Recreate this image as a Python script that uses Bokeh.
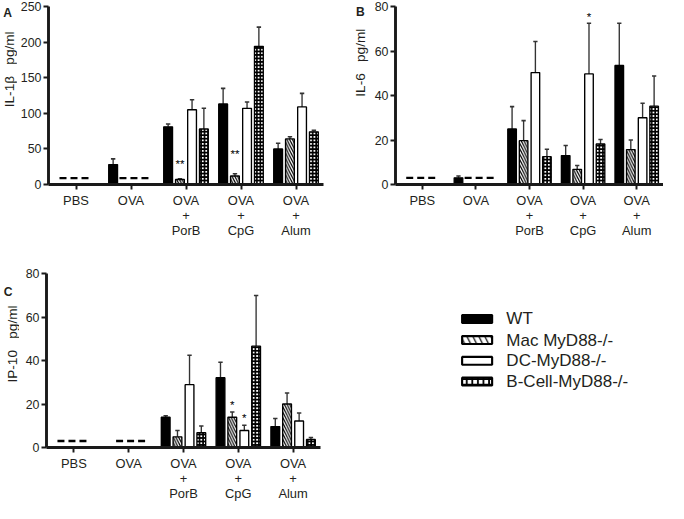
import numpy as np
from math import pi
from bokeh.plotting import figure
from bokeh.layouts import row, column
from bokeh.models import FixedTicker
from bokeh.embed import file_html
from bokeh.resources import INLINE
from bokeh.core.properties import value

# ---------------- data ----------------
groups = ["PBS", "OVA", "OVA\n+\nPorB", "OVA\n+\nCpG", "OVA\n+\nAlum"]
strains = ["WT", "Mac MyD88-/-", "DC-MyD88-/-", "B-Cell-MyD88-/-"]

# IL-1beta pg/ml (None = below detection, drawn as dashed line)
il1b_wt = [None, 28, 81, 113, 50]
il1b_wt_err = [None, 36, 85, 135, 58]
il1b_mac = [None, None, 7, 12, 64]
il1b_mac_err = [None, None, 8, 15, 67]
il1b_dc = [None, None, 105, 107, 109]
il1b_dc_err = [None, None, 119, 116, 128]
il1b_bc = [None, None, 78, 194, 74]
il1b_bc_err = [None, None, 107, 221, 76]
il1b_nd = 9
il1b_stars = [("Mac MyD88-/-", 2, "**", 30), ("Mac MyD88-/-", 3, "**", 43)]

# IL-6 pg/ml
il6_wt = [None, 3, 25, 13, 53.5]
il6_wt_err = [None, 3.8, 35, 17.5, 72.5]
il6_mac = [None, None, 19.7, 6.8, 15.7]
il6_mac_err = [None, None, 28.7, 8.5, 20]
il6_dc = [None, None, 50.3, 49.7, 30]
il6_dc_err = [None, None, 64.3, 72.5, 36.5]
il6_bc = [None, None, 12.5, 18.2, 35.2]
il6_bc_err = [None, None, 15.8, 20.2, 48.8]
il6_nd = 3
il6_stars = [("DC-MyD88-/-", 3, "*", 75.5)]

# IP-10 pg/ml
ip10_wt = [None, None, 13.9, 32.1, 9.6]
ip10_wt_err = [None, None, 14.6, 39.2, 13.3]
ip10_mac = [None, None, 4.9, 13.9, 20]
ip10_mac_err = [None, None, 7.8, 16.3, 25.1]
ip10_dc = [None, None, 28.9, 7.8, 12.2]
ip10_dc_err = [None, None, 42.4, 10.2, 15.9]
ip10_bc = [None, None, 6.8, 46.6, 3.7]
ip10_bc_err = [None, None, 9.9, 69.9, 4.6]
ip10_nd = 3
ip10_stars = [("Mac MyD88-/-", 3, "*", 19.7), ("DC-MyD88-/-", 3, "*", 14)]

y_ticks_a = [0, 50, 100, 150, 200, 250]
y_ticks_bc = [0, 20, 40, 60, 80]

# ---------------- styles ----------------
S = 0.969
def px(v):
    return int(round(v * S))

FONT = "Liberation Sans"
TXT = "#231f20"
OFFS = [-0.325, -0.11, 0.11, 0.325]
BAR_W = 0.16
STYLE = {
    "WT": dict(fill_color="black", hatch_pattern=" ", hatch_scale=5, hatch_weight=1),
    "Mac MyD88-/-": dict(fill_color="white", hatch_pattern="\\", hatch_scale=5.6 * S, hatch_weight=1.2),
    "DC-MyD88-/-": dict(fill_color="white", hatch_pattern=" ", hatch_scale=5, hatch_weight=1),
    "B-Cell-MyD88-/-": dict(fill_color="white", hatch_pattern="+", hatch_scale=3.6 * S, hatch_weight=1.8),
}


def make_strip(w, h, label, lab_xy, letter, let_xy):
    s = figure(width=px(w), height=px(h), x_range=(0, w), y_range=(0, h),
               output_backend="svg", toolbar_location=None, min_border=0,
               x_axis_location=None, y_axis_location=None)
    s.outline_line_color = None
    s.grid.visible = False
    s.text(x=[lab_xy[0]], y=[h - lab_xy[1]], text=[label], angle=pi / 2,
           text_align="center", text_baseline="middle", text_font=value(FONT),
           text_font_size=f"{14 * S:.1f}px", text_color=TXT)
    s.text(x=[let_xy[0]], y=[h - let_xy[1]], text=[letter], text_align="center",
           text_baseline="middle", text_font=value(FONT), text_font_style="bold",
           text_font_size=f"{12.5 * S:.1f}px", text_color=TXT)
    return s


def make_panel(series, nd_level, nd_ova_bar, y_end, y_ticks, stars, geom):
    w, h, bl, br, bt, bb = geom
    p = figure(width=px(w), height=px(h), x_range=(-0.5, 4.5), y_range=(0, y_end),
               output_backend="svg", toolbar_location=None,
               min_border_left=px(bl), min_border_right=px(br),
               min_border_top=px(bt), min_border_bottom=px(bb))
    p.outline_line_color = None
    p.grid.visible = False

    # below-detection dashed lines
    x0 = [0 - 0.3, 1 - (0.21 if nd_ova_bar else 0.23)]
    x1 = [0 + 0.28, 1 + (0.37 if nd_ova_bar else 0.32)]
    p.segment(x0=x0, y0=[nd_level] * 2, x1=x1, y1=[nd_level] * 2,
              line_color="black", line_width=2.4 * S, line_dash="7 4")

    for i, name in enumerate(strains):
        vals, errs = series[i]
        xs = [g + OFFS[i] for g, v in enumerate(vals) if v is not None]
        tops = [v for v in vals if v is not None]
        es = [e for e in errs if e is not None]
        p.segment(x0=xs, y0=tops, x1=xs, y1=es, line_color="#333333", line_width=1.4 * S)
        p.segment(x0=[x - 0.04 for x in xs], y0=es, x1=[x + 0.04 for x in xs], y1=es,
                  line_color="#333333", line_width=1.6 * S)
        p.vbar(x=xs, top=tops, bottom=0, width=BAR_W, line_color="black",
               line_width=1.4 * S, hatch_color="black", **STYLE[name])

    for name, g, txt, yv in stars:
        i = strains.index(name)
        p.text(x=[g + OFFS[i]], y=[yv], text=[txt], text_align="center",
               text_baseline="middle", text_font=value(FONT),
               text_font_size=f"{12 * S:.1f}px", text_color="black")

    p.xaxis.ticker = FixedTicker(ticks=list(range(len(groups))))
    p.xaxis.major_label_overrides = {i: g for i, g in enumerate(groups)}
    p.yaxis.ticker = FixedTicker(ticks=y_ticks)
    for ax in (p.xaxis, p.yaxis):
        ax.axis_line_width = 3 * S
        ax.axis_line_color = "#1a1a1a"
        ax.major_tick_line_width = 2 * S
        ax.major_tick_line_color = "#1a1a1a"
        ax.major_tick_out = px(5)
        ax.major_tick_in = 0
        ax.minor_tick_line_color = None
        ax.major_label_text_font = FONT
        ax.major_label_text_color = TXT
    p.xaxis.major_label_text_font_size = f"{13.3 * S:.1f}px"
    p.xaxis.major_label_text_line_height = 1.0
    p.xaxis.major_label_standoff = px(3)
    p.yaxis.major_label_text_font_size = f"{12.8 * S:.1f}px"
    p.yaxis.major_label_standoff = px(2)
    return p


NB = "\u00a0\u00a0\u00a0"
sA = make_strip(18, 255, "IL-1β" + NB + "pg/ml", (9, 90), "A", (7.5, 9))
pA = make_panel([(il1b_wt, il1b_wt_err), (il1b_mac, il1b_mac_err), (il1b_dc, il1b_dc_err),
                 (il1b_bc, il1b_bc_err)], il1b_nd, True, 250, y_ticks_a, il1b_stars,
                (322, 255, 32, 6, 6, 58))
sB = make_strip(42, 255, "IL-6" + NB + "pg/ml", (32, 80.5), "B", (31.5, 8.5))
pB = make_panel([(il6_wt, il6_wt_err), (il6_mac, il6_mac_err), (il6_dc, il6_dc_err),
                 (il6_bc, il6_bc_err)], il6_nd, True, 80, y_ticks_bc, il6_stars,
                (302, 255, 26, 0, 4.5, 65))
sC = make_strip(20, 264, "IP-10" + NB + "pg/ml", (13, 107), "C", (8, 27.5))
pC = make_panel([(ip10_wt, ip10_wt_err), (ip10_mac, ip10_mac_err), (ip10_dc, ip10_dc_err),
                 (ip10_bc, ip10_bc_err)], ip10_nd, False, 80, y_ticks_bc, ip10_stars,
                (320, 264, 28, 9, 27, 49))

# legend panel (coordinates in panel pixels, y downward)
lg = figure(width=px(344), height=px(264), x_range=(0, 344), y_range=(264, 0),
            output_backend="svg", toolbar_location=None, min_border=0,
            x_axis_location=None, y_axis_location=None)
lg.outline_line_color = None
lg.grid.visible = False
rows_y = [69, 101, 132.5, 164]
for i, name in enumerate(strains):
    st = dict(STYLE[name])
    st["hatch_scale"] = st["hatch_scale"] * (2.2 if name == "Mac MyD88-/-" else 1.6)
    lg.rect(x=[152.5], y=[rows_y[i]], width=31, height=12, line_color="black",
            line_width=2.2 * S, hatch_color="black", **st)
lg.text(x=[182.7] * 4, y=rows_y, text=strains, text_baseline="middle",
        text_font=value(FONT), text_font_size=f"{17.5 * S:.1f}px", text_color=TXT)

layout = column(row(sA, pA, sB, pB), row(sC, pC, lg))
open("out.html", "w").write(file_html(layout, INLINE))
